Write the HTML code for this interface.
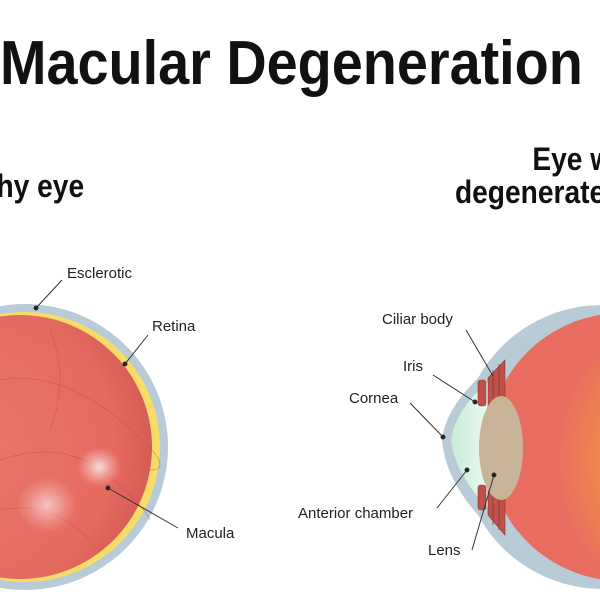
<!DOCTYPE html>
<html><head><meta charset="utf-8"><style>
html,body{margin:0;padding:0;background:#fff;width:600px;height:600px;overflow:hidden}
</style></head><body>
<svg width="600" height="600" xmlns="http://www.w3.org/2000/svg" font-family="Liberation Sans, sans-serif">
<defs>
<radialGradient id="rl" cx="0.3" cy="0.5" r="0.7"><stop offset="0" stop-color="#e8766c"/><stop offset="0.8" stop-color="#e56a60"/><stop offset="1" stop-color="#d65c55"/></radialGradient>
<radialGradient id="rr" cx="0.85" cy="0.55" r="0.6"><stop offset="0" stop-color="#fbc52a"/><stop offset="0.45" stop-color="#f5a03a"/><stop offset="1" stop-color="#e86d60"/></radialGradient>
<radialGradient id="wh"><stop offset="0" stop-color="#fbe3e0" stop-opacity="0.95"/><stop offset="1" stop-color="#f7c4bf" stop-opacity="0"/></radialGradient>
<linearGradient id="ac" x1="0" x2="1"><stop offset="0" stop-color="#c9ecd8"/><stop offset="1" stop-color="#eafaf1"/></linearGradient>
</defs>
<g transform="scale(0.9,1)"><text x="0" y="84" font-size="62" font-weight="bold" fill="#111">Macular Degeneration</text></g>
<g transform="scale(0.88,1)"><text x="-4" y="197" font-size="32" font-weight="bold" fill="#111">hy eye</text>
<text x="605" y="170" font-size="32" font-weight="bold" fill="#111">Eye w</text>
<text x="517" y="203" font-size="32" font-weight="bold" fill="#111">degenerate</text></g>

<!-- left eye -->
<circle cx="25" cy="447" r="143" fill="#b9cbd6"/>
<circle cx="25" cy="447" r="135" fill="#f6dd6a"/>
<circle cx="20" cy="447" r="132" fill="url(#rl)"/>
<path d="M0 312 L80 312 A132 132 0 0 0 0 318Z" fill="#b9cbd6" opacity="0"/>
<g stroke="#c0504a" stroke-width="0.7" fill="none" opacity="0.6">
<path d="M0 380 Q60 370 120 420 T150 470"/><path d="M0 460 Q60 440 100 470 T150 520"/><path d="M50 330 Q70 380 50 430"/><path d="M0 510 Q50 500 90 540"/>
</g>
<ellipse cx="99" cy="467" rx="22" ry="20" fill="url(#wh)"/>
<ellipse cx="47" cy="505" rx="30" ry="28" fill="url(#wh)" opacity="0.8"/>
<g stroke="#333" stroke-width="1" fill="#222">
<line x1="36" y1="308" x2="62" y2="280"/><circle cx="36" cy="308" r="2"/>
<line x1="125" y1="364" x2="148" y2="335"/><circle cx="125" cy="364" r="2"/>
<line x1="108" y1="488" x2="178" y2="528"/><circle cx="108" cy="488" r="2"/>
</g>
<g font-size="15" fill="#222"><text x="67" y="278">Esclerotic</text><text x="152" y="331">Retina</text><text x="186" y="538">Macula</text></g>

<!-- right eye -->
<path d="M600 305 A142 142 0 0 0 478 378 Q445 410 442 440 Q445 478 478 515 A142 142 0 0 0 600 589Z" fill="#b9cbd6"/>
<circle cx="622" cy="447" r="134" fill="url(#rr)"/>
<path d="M490 380 Q455 410 451 440 Q455 475 490 510Z" fill="url(#ac)"/>
<g fill="#c0504a" stroke="#8e3530" stroke-width="0.6">
<path d="M488 378 L505 360 L505 535 L488 515Z"/>
<rect x="478" y="380" width="8" height="26" rx="3"/><rect x="478" y="485" width="8" height="25" rx="3"/>
</g>
<g stroke="#8e3530" stroke-width="0.8"><line x1="493" y1="370" x2="493" y2="525"/><line x1="499" y1="364" x2="499" y2="530"/></g>
<ellipse cx="501" cy="448" rx="22" ry="52" fill="#c9b497"/>
<g stroke="#333" stroke-width="1" fill="#222">
<line x1="493" y1="376" x2="466" y2="330"/>
<line x1="475" y1="402" x2="433" y2="375"/><circle cx="475" cy="402" r="2"/>
<line x1="443" y1="437" x2="410" y2="403"/><circle cx="443" cy="437" r="2"/>
<line x1="467" y1="470" x2="437" y2="508"/><circle cx="467" cy="470" r="2"/>
<line x1="494" y1="475" x2="472" y2="550"/><circle cx="494" cy="475" r="2"/>
</g>
<g font-size="15" fill="#222"><text x="382" y="324">Ciliar body</text><text x="403" y="371">Iris</text><text x="349" y="403">Cornea</text><text x="298" y="518">Anterior chamber</text><text x="428" y="555">Lens</text></g>
</svg>
</body></html>
